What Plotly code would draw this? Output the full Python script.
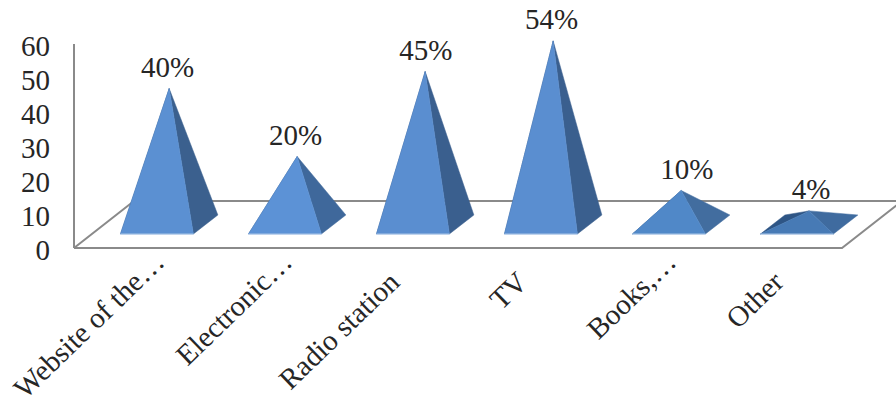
import plotly.graph_objects as go

# Survey answers and the palette of each pyramid's faces
categories = ["Website of the…", "Electronic…", "Radio station", "TV", "Books,…", "Other"]
label_padding = [0, 0, 4, 4, 0, 4]
values = [40, 20, 45, 54, 10, 4]
value_labels = ["40%", "20%", "45%", "54%", "10%", "4%"]
label_nudge = [-0.012, -0.012, 0.006, -0.012, 0.045, 0.015]
y_ticks = [0, 10, 20, 30, 40, 50, 60]
front_colors = ["#5B90D2", "#5C92D6", "#5A8ED0", "#5A8ED0", "#5088C8", "#477AB5"]
side_colors = ["#3B608E", "#3F689B", "#3A5F8E", "#3A5F8E", "#426D9F", "#3F6B9F"]
rear_color = "#2E5585"
base_edge = "#A8C4E6"

TEXT = "#262626"
FONT = "Liberation Serif"
AXIS = "#8A8A8A"

# Plot scale: 128 px per category, 3.4 px per unit; the plot area overshoots the axes
# so that the drawn axis lines and the tall data labels are not clipped
PX_X, PX_Y = 128, 3.4
ORIGIN_X, ORIGIN_Y = 74, 248
LEFT, BOTTOM = 60, 254

# Oblique projection: a step into the floor moves right and up
FLOOR_DX, FLOOR_DY = 0.469, 13.8
BASE_LEFT, BASE_W = 0.363, 0.57
BASE_DX, BASE_DY = 0.191, 5.59
BASE_Y = 4.12

fig = go.Figure()


def polygon(xs, ys, color):
    fig.add_trace(go.Scatter(
        x=xs + xs[:1], y=ys + ys[:1], mode="lines", fill="toself", fillcolor=color,
        line=dict(color=color, width=0.5), hoverinfo="skip", showlegend=False,
    ))


def edge(xs, ys, color=AXIS, width=2):
    fig.add_trace(go.Scatter(
        x=xs, y=ys, mode="lines", line=dict(color=color, width=width),
        hoverinfo="skip", showlegend=False,
    ))


# Axis lines and floor outline
edge([0, 0], [60, 0])
edge([0, 6, 6 + FLOOR_DX], [0, 0, FLOOR_DY])
edge([0, FLOOR_DX, 6 + FLOOR_DX], [0, FLOOR_DY, FLOOR_DY])

apex_x, apex_y = [], []
for i, v in enumerate(values):
    x0 = i + BASE_LEFT
    x1 = x0 + BASE_W
    top_x = x0 + BASE_W / 2 + BASE_DX / 2
    top_y = BASE_Y + BASE_DY / 2 + v
    apex_x.append(top_x)
    apex_y.append(top_y)
    polygon([x0, x0 + BASE_DX, top_x], [BASE_Y, BASE_Y + BASE_DY, top_y], rear_color)
    polygon([x1, x1 + BASE_DX, top_x], [BASE_Y, BASE_Y + BASE_DY, top_y], side_colors[i])
    polygon([x0, x1, top_x], [BASE_Y, BASE_Y, top_y], front_colors[i])
    edge([x0, x1], [BASE_Y, BASE_Y], color=base_edge, width=1)

fig.add_trace(go.Scatter(
    x=[x + n for x, n in zip(apex_x, label_nudge)], y=[y + 1.3 for y in apex_y], mode="text",
    text=value_labels, textposition="top center",
    textfont=dict(family=FONT, size=29, color=TEXT),
    hoverinfo="skip", showlegend=False,
))

tick_text = [c + "\u00a0" * n for c, n in zip(categories, label_padding)]

fig.update_layout(
    width=896, height=403, margin=dict(l=LEFT, r=0, t=0, b=403 - BOTTOM, autoexpand=False),
    paper_bgcolor="white", plot_bgcolor="white", showlegend=False,
    xaxis=dict(
        range=[(LEFT - ORIGIN_X) / PX_X, (896 - ORIGIN_X) / PX_X], tickmode="array",
        tickvals=[i + 0.64 for i in range(6)], ticktext=tick_text,
        tickangle=-44, showgrid=False, zeroline=False, showline=False,
        ticks="", ticklabelstandoff=-16, tickfont=dict(family=FONT, size=29, color=TEXT), automargin=False,
    ),
    yaxis=dict(
        range=[(ORIGIN_Y - BOTTOM) / PX_Y, ORIGIN_Y / PX_Y], tickmode="array", tickvals=y_ticks,
        showgrid=False, zeroline=False, showline=False, ticks="", ticklabelstandoff=9,
        ticklabelshift=2, tickfont=dict(family=FONT, size=29, color=TEXT), automargin=False,
    ),
)

fig.write_html("out.html")
